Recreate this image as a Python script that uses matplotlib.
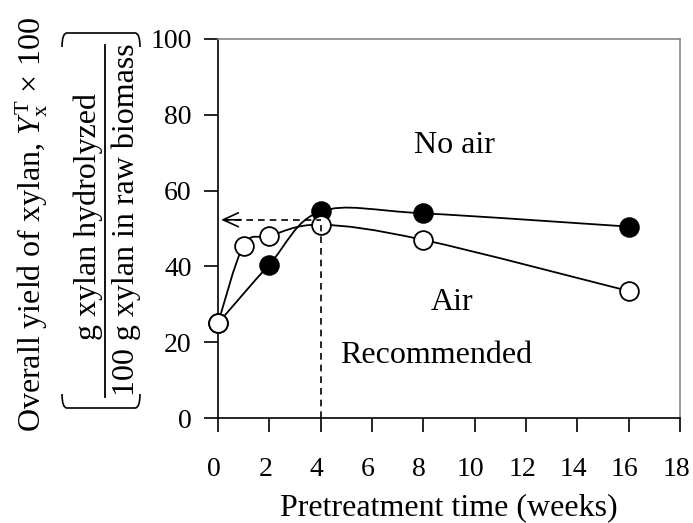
import matplotlib
matplotlib.use("Agg")
import matplotlib.pyplot as plt
import matplotlib.transforms as mtransforms
from matplotlib.path import Path
from matplotlib.patches import PathPatch
from matplotlib.lines import Line2D

plt.rcParams['font.family'] = ['Liberation Serif', 'DejaVu Serif']
plt.rcParams['mathtext.fontset'] = 'custom'
plt.rcParams['mathtext.rm'] = 'Liberation Serif'
plt.rcParams['mathtext.it'] = 'Liberation Serif:italic'

# ---- data ----
weeks_noair = [0, 2, 4, 8, 16]
yield_noair = [25, 40.5, 54.5, 54, 50.5]
weeks_air = [0, 1, 2, 4, 8, 16]
yield_air = [25, 45.5, 48, 51, 47, 33.5]
recommended_week = 4
recommended_yield = 52.3
xticks = list(range(0, 19, 2))
yticks = list(range(0, 101, 20))

FS = 23
TFS = 20
W, H = 693, 523
fig = plt.figure(figsize=(W / 100, H / 100), dpi=100)
ax = fig.add_axes([218 / W, 1 - 418 / H, (680 - 218) / W, (418 - 39) / H])
ax.set_xlim(0, 18)
ax.set_ylim(0, 100)

def smooth_path(xs, ys):
    pts = list(zip(xs, ys))
    n = len(pts)
    verts = [pts[0]]
    codes = [Path.MOVETO]
    for i in range(n - 1):
        p0 = pts[i - 1] if i > 0 else pts[i]
        p1 = pts[i]
        p2 = pts[i + 1]
        p3 = pts[i + 2] if i + 2 < n else pts[i + 1]
        c1 = (p1[0] + (p2[0] - p0[0]) / 6, p1[1] + (p2[1] - p0[1]) / 6)
        c2 = (p2[0] - (p3[0] - p1[0]) / 6, p2[1] - (p3[1] - p1[1]) / 6)
        verts += [c1, c2, p2]
        codes += [Path.CURVE4] * 3
    return Path(verts, codes)

for xs, ys in [(weeks_noair, yield_noair), (weeks_air, yield_air)]:
    ax.add_patch(PathPatch(smooth_path(xs, ys), fill=False, edgecolor='black', lw=1.3, zorder=2))

ax.plot(weeks_noair, yield_noair, 'o', ms=13.5, mfc='black', mec='black', mew=1.3, zorder=3, clip_on=False)
ax.plot(weeks_air, yield_air, 'o', ms=13.5, mfc='white', mec='black', mew=1.3, zorder=4, clip_on=False)

# recommended dashed lines
ax.plot([recommended_week, recommended_week], [0, recommended_yield - 1.3], ls=(0, (4, 3)), color='black', lw=1.2, zorder=5)
ax.plot([0.2, recommended_week], [recommended_yield, recommended_yield], ls=(0, (4, 3)), color='black', lw=1.2, zorder=5)
ax.annotate('', xy=(0.12, recommended_yield), xytext=(0.9, recommended_yield),
            arrowprops=dict(arrowstyle='->,head_length=1.1,head_width=0.5', color='black', lw=1.2,
                            shrinkA=0, shrinkB=0), zorder=5)

ax.text(9.2, 72, 'No air', ha='center', va='center', fontsize=FS)
ax.text(9.1, 30.5, 'Air', ha='center', va='center', fontsize=FS)
ax.text(8.5, 16.5, 'Recommended', ha='center', va='center', fontsize=FS)

ax.set_xticks(xticks)
ax.set_yticks(yticks)
ax.tick_params(axis='both', direction='out', length=10, width=1.2, labelsize=TFS, color='black')
ax.tick_params(axis='x', pad=18)
ax.tick_params(axis='y', pad=9)
shift = mtransforms.ScaledTranslation(-4 / 100, 0, fig.dpi_scale_trans)
for lbl in ax.get_xticklabels():
    lbl.set_transform(lbl.get_transform() + shift)
for s in ['left', 'bottom']:
    ax.spines[s].set_linewidth(1.2)
for s in ['top', 'right']:
    ax.spines[s].set_color('#888888')
    ax.spines[s].set_linewidth(1.2)

ax.set_xlabel('Pretreatment time (weeks)', fontsize=FS, labelpad=8)

# y label block
def fx(px):
    return px / W

def fy(py):
    return 1 - py / H

fig.text(fx(32), fy(225), r'Overall yield of xylan, $\mathit{Y}_{\mathrm{x}}^{\mathrm{T}}$ × 100', rotation=90,
         ha='center', va='center', fontsize=FS)
fig.text(fx(88), fy(217), 'g xylan hydrolyzed', rotation=90, ha='center', va='center', fontsize=FS)
fig.text(fx(126), fy(220), '100 g xylan in raw biomass', rotation=90, ha='center', va='center', fontsize=FS)
fig.add_artist(Line2D([fx(105), fx(105)], [fy(45), fy(397)], color='black', lw=1.3))

# brackets (rotated parentheses)
def bracket(y_edge, y_in):
    verts = [(fx(62), fy(y_in)), (fx(62), fy(y_edge)), (fx(67), fy(y_edge)),
             (fx(135), fy(y_edge)), (fx(140), fy(y_edge)), (fx(140), fy(y_in))]
    codes = [Path.MOVETO, Path.CURVE3, Path.CURVE3, Path.LINETO, Path.CURVE3, Path.CURVE3]
    fig.add_artist(PathPatch(Path(verts, codes), fill=False, edgecolor='black', lw=1.2,
                             transform=fig.transFigure))

bracket(33, 47)
bracket(408, 394)

fig.savefig('out.png', dpi=100)
